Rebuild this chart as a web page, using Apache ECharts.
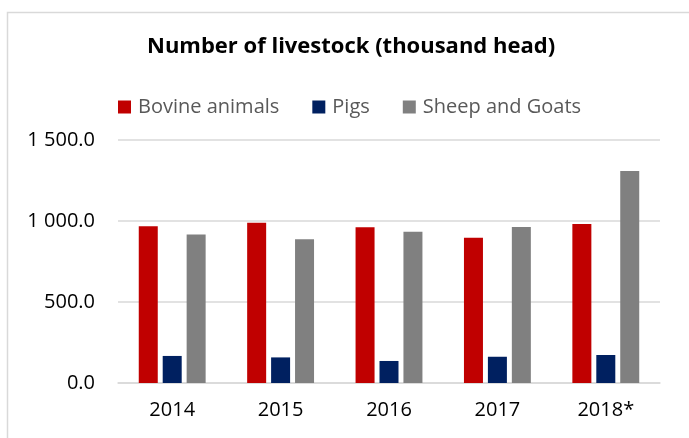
<!DOCTYPE html>
<html>
<head>
<meta charset="utf-8">
<title>Number of livestock</title>
<script src="https://cdn.jsdelivr.net/npm/echarts@6/dist/echarts.min.js"></script>
<style>
  html, body { margin: 0; padding: 0; background: #fff; }
  #chart { width: 689px; height: 438px; }
</style>
</head>
<body>
<div id="chart"></div>
<script>
// Livestock numbers, thousand head
const years = ['2014', '2015', '2016', '2017', '2018*'];
const bovine = [967, 989, 961, 897, 981];
const pigs = [167, 158, 136, 162, 173];
const sheepGoats = [917, 888, 934, 963, 1308];
const yTicks = [0, 500, 1000, 1500];

const FONT = '"Open Sans", sans-serif';

function fmtThousands(v) {
  const s = v.toFixed(1);
  const [intPart, dec] = s.split('.');
  return intPart.replace(/\B(?=(\d{3})+(?!\d))/g, ' ') + '.' + dec;
}

const chart = echarts.init(document.getElementById('chart'), null, { renderer: 'canvas' });

const barStyle = (color) => ({
  type: 'bar',
  barWidth: 19,
  barGap: '26%',
  itemStyle: { color: color },
  emphasis: { disabled: true }
});

chart.setOption({
  backgroundColor: '#ffffff',
  animation: false,
  graphic: [{
    type: 'rect',
    left: 5,
    top: 10,
    shape: { width: 720, height: 460 },
    style: { fill: 'none', stroke: '#d9d9d9', lineWidth: 1.5 },
    silent: true,
    z: -1
  }],
  title: {
    text: 'Number of livestock (thousand head)',
    left: 142,
    top: 31,
    textStyle: { fontFamily: FONT, fontWeight: 'bold', fontSize: 22, color: '#000000' }
  },
  legend: {
    left: 113,
    top: 92,
    itemWidth: 13,
    itemHeight: 13,
    itemGap: 33,
    icon: 'rect',
    textStyle: { fontFamily: FONT, fontSize: 20, color: '#595959', padding: [0, 0, 0, 2] },
    data: ['Bovine animals', 'Pigs', 'Sheep and Goats']
  },
  grid: { left: 118, right: 29, top: 140, bottom: 55, containLabel: false },
  xAxis: {
    type: 'category',
    data: years,
    axisLine: { show: true, lineStyle: { color: '#d9d9d9', width: 1.5 } },
    axisTick: { show: false },
    axisLabel: { fontFamily: FONT, fontSize: 20, color: '#000000', margin: 17 }
  },
  yAxis: {
    type: 'value',
    min: yTicks[0],
    max: yTicks[yTicks.length - 1],
    interval: yTicks[1] - yTicks[0],
    axisLine: { show: false },
    axisTick: { show: false },
    splitLine: { lineStyle: { color: '#d9d9d9', width: 1.5 } },
    axisLabel: { fontFamily: FONT, fontSize: 20, color: '#000000', margin: 23, formatter: fmtThousands }
  },
  series: [
    Object.assign(barStyle('#c00000'), { name: 'Bovine animals', data: bovine }),
    Object.assign(barStyle('#002060'), { name: 'Pigs', data: pigs }),
    Object.assign(barStyle('#808080'), { name: 'Sheep and Goats', data: sheepGoats })
  ]
});
</script>
</body>
</html>
